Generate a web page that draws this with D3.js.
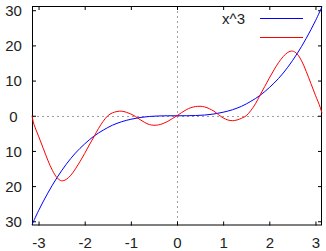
<!DOCTYPE html>
<html><head><meta charset="utf-8">
<script src="https://cdn.jsdelivr.net/npm/d3@7"></script>
<style>html,body{margin:0;padding:0;background:#fff;}svg{display:block;}</style>
</head><body>
<script>
const xTicks = [-3,-2,-1,0,1,2,3];
const xTickLabels = ["-3","-2","-1","0","1","2","3"];
const yTicks = [30,20,10,0,-10,-20,-30];
const yTickLabels = ["30","20","10","0","10","20","30"];
const seriesNames = ["x^3", ""];
const blueX = [-3.1416,-3.0,-2.8,-2.6,-2.4,-2.2,-2.0,-1.8,-1.6,-1.4,-1.2,-1.0,-0.8,-0.6,-0.4,-0.2,0,0.2,0.4,0.6,0.8,1.0,1.2,1.4,1.6,1.8,2.0,2.2,2.4,2.6,2.8,3.0,3.1416];
const blueY = [-31.0,-27.0,-22.0,-17.6,-13.8,-10.6,-8.0,-5.8,-4.1,-2.7,-1.7,-1.0,-0.5,-0.2,-0.06,-0.01,0,0.01,0.06,0.2,0.5,1.0,1.7,2.7,4.1,5.8,8.0,10.6,13.8,17.6,22.0,27.0,31.0];
const redX = [-3.1416,-3.1,-3.0,-2.9,-2.8,-2.7,-2.6,-2.5,-2.4,-2.3,-2.2,-2.1,-2.0,-1.9,-1.8,-1.7,-1.6,-1.5,-1.4,-1.3,-1.2,-1.1,-1.0,-0.9,-0.8,-0.7,-0.6,-0.5,-0.4,-0.3,-0.2,-0.1,0,0.1,0.2,0.3,0.4,0.5,0.6,0.7,0.8,0.9,1.0,1.1,1.2,1.3,1.4,1.5,1.6,1.7,1.8,1.9,2.0,2.1,2.2,2.3,2.4,2.5,2.6,2.7,2.8,2.9,3.0,3.1,3.1416];
const redY = [0,-2.4,-5.8,-9.2,-12.6,-15.5,-17.6,-18.5,-18.1,-16.9,-15.1,-13.0,-10.7,-8.3,-6.0,-3.6,-1.6,0.0,0.8,1.2,1.3,1.0,0.5,-0.2,-1.1,-1.9,-2.5,-2.7,-2.6,-2.2,-1.6,-0.8,0,0.9,1.7,2.3,2.6,2.7,2.5,2.0,1.3,0.3,-0.6,-1.2,-1.4,-1.2,-0.7,0.0,1.5,3.4,5.9,8.3,10.7,13.0,15.1,16.8,18.0,18.4,17.6,15.6,12.6,9.2,5.8,2.5,0.7];

const W = 326, H = 251;
const L = 32, R = 322, T = 6, B = 225.5;
const svg = d3.select("body").append("svg").attr("width", W).attr("height", H);
svg.append("rect").attr("width", W).attr("height", H).attr("fill", "#fff");

const x = d3.scaleLinear().domain([-Math.PI, Math.PI]).range([L, R]);
const y = d3.scaleLinear().domain([-31.2, 31.2]).range([B, T]);
const font = "'Liberation Sans', Arial, sans-serif";

// zero axes (dashed)
svg.append("line").attr("x1", x(0)+0.5).attr("x2", x(0)+0.5).attr("y1", T).attr("y2", B)
  .attr("stroke", "#a0a0a0").attr("stroke-dasharray", "2,3").attr("stroke-width", 1);
svg.append("line").attr("x1", L).attr("x2", R).attr("y1", Math.round(y(0))+0.5).attr("y2", Math.round(y(0))+0.5)
  .attr("stroke", "#a0a0a0").attr("stroke-dasharray", "2,3").attr("stroke-width", 1);

// axes with inward ticks
const tk = 4;
const gB = svg.append("g").attr("transform", `translate(0,${B})`)
  .call(d3.axisBottom(x).tickValues(xTicks).tickSize(-tk).tickFormat((d,i)=>xTickLabels[i]));
const gT = svg.append("g").attr("transform", `translate(0,${T})`)
  .call(d3.axisTop(x).tickValues(xTicks).tickSize(-tk).tickFormat(""));
const gL = svg.append("g").attr("transform", `translate(${L},0)`)
  .call(d3.axisLeft(y).tickValues(yTicks).tickSize(-tk).tickFormat((d,i)=>yTickLabels[i]));
const gR = svg.append("g").attr("transform", `translate(${R},0)`)
  .call(d3.axisRight(y).tickValues(yTicks).tickSize(-tk).tickFormat(""));
[gB,gT,gL,gR].forEach(g=>{
  g.select(".domain").remove();
  g.selectAll("line").attr("stroke", "#000");
  g.selectAll("text").attr("font-family", font).attr("font-size", 15).attr("fill", "#222");
});
gB.selectAll("text").attr("dy", null).attr("y", 22.5).attr("dominant-baseline", "auto");
gL.selectAll("text").attr("text-anchor", "middle").attr("x", 13.5 - L).attr("dy", "0.35em");

// frame
svg.append("rect").attr("x", L+0.5).attr("y", T+0.5).attr("width", R-L-1).attr("height", B-T-1)
  .attr("fill", "none").attr("stroke", "#000").attr("stroke-width", 1);

const line = d3.line().x(d=>x(d[0])).y(d=>y(d[1])).curve(d3.curveCatmullRom);
svg.append("path").datum(blueX.map((v,i)=>[v, blueY[i]]))
  .attr("d", line).attr("fill", "none").attr("stroke", "#0000ff").attr("stroke-width", 1);
svg.append("path").datum(redX.map((v,i)=>[v, redY[i]]))
  .attr("d", line).attr("fill", "none").attr("stroke", "#ff0000").attr("stroke-width", 1);

// legend
const colors = ["#0000ff", "#ff0000"];
seriesNames.forEach((n,i)=>{
  const yy = 18.5 + i*19;
  svg.append("text").attr("x", 245).attr("y", yy).attr("dy", "0.35em").attr("text-anchor", "end")
    .attr("font-family", font).attr("font-size", 15).attr("fill", "#222").text(n);
  svg.append("line").attr("x1", 260).attr("x2", 303).attr("y1", yy).attr("y2", yy)
    .attr("stroke", colors[i]).attr("stroke-width", 1);
});
</script>
</body></html>
